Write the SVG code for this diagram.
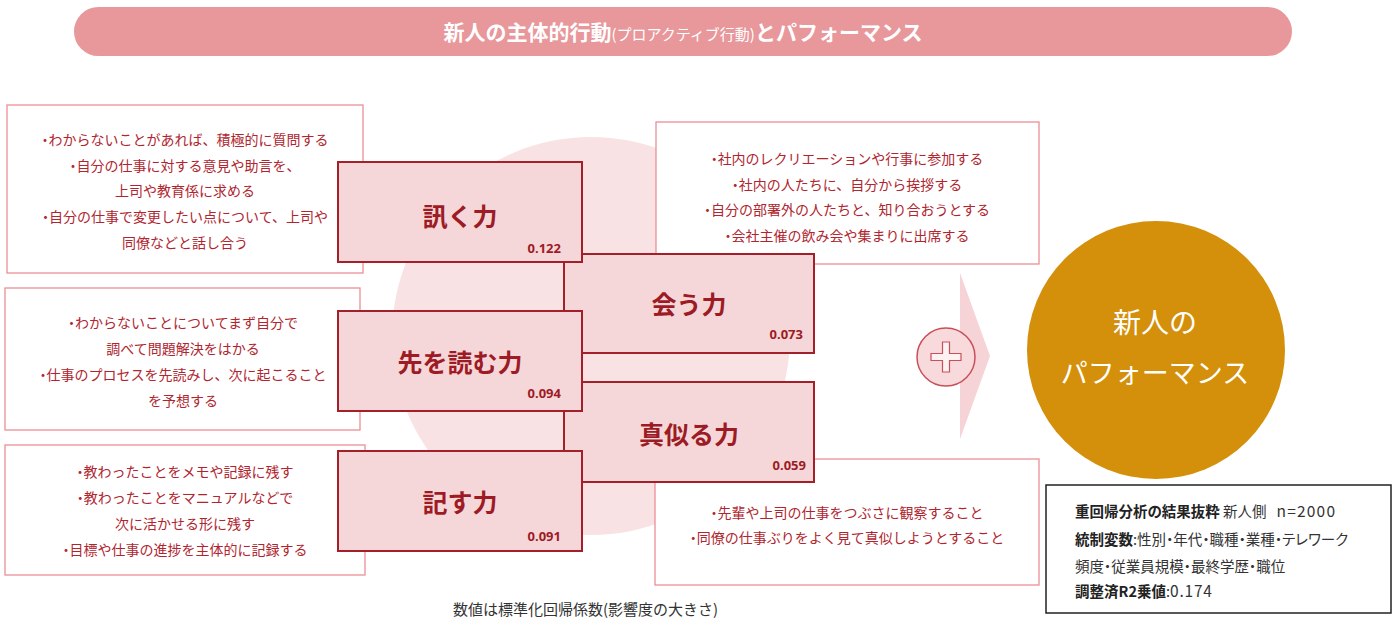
<svg xmlns="http://www.w3.org/2000/svg" width="1396" height="619" viewBox="0 0 1396 619">
<style>
text{font-family:"Noto Sans CJK JP","Noto Sans",sans-serif;}
.tb{fill:#ffffff;stroke:#ec8f95;stroke-width:1.3;}
.tt{font-size:14px;fill:#b0262f;text-anchor:middle;}
.p{font-feature-settings:"palt";}
.cb{fill:#f6d7d9;stroke:#a3202a;stroke-width:2;}
.cl{font-size:25px;font-weight:bold;fill:#9d1b24;text-anchor:middle;}
.cn{font-size:13px;font-weight:bold;fill:#9d1b24;text-anchor:end;font-family:"Noto Sans","DejaVu Sans",sans-serif;}
.rt{font-size:14.5px;fill:#333333;font-feature-settings:"palt";}
.bold{font-weight:bold;fill:#222222;}
</style>
<rect width="1396" height="619" fill="#ffffff"/>
<g id="title">
<rect x="74" y="7" width="1218" height="49" rx="24.5" fill="#e8979b"/>
<text x="683" y="40" fill="#ffffff" text-anchor="middle" font-size="21" font-weight="bold">新人の主体的行動<tspan font-size="15" font-weight="normal">(プロアクティブ行動)</tspan>とパフォーマンス</text>
</g>
<circle id="bg-circle" cx="591" cy="336" r="199" fill="#f9e2e3"/>
<g id="desc-ask">
<rect class="tb" x="7" y="105" width="356" height="168"/>
<text class="tt" x="185" y="145"><tspan class="p">・</tspan>わからないことがあれば、積極的に質問する</text>
<text class="tt" x="185" y="171"><tspan class="p">・</tspan>自分の仕事に対する意見や助言を、</text>
<text class="tt" x="185" y="196">上司や教育係に求める</text>
<text class="tt" x="185" y="222"><tspan class="p">・</tspan>自分の仕事で変更したい点について、上司や</text>
<text class="tt" x="185" y="248">同僚などと話し合う</text>
</g>
<g id="desc-read">
<rect class="tb" x="5" y="288" width="355" height="142"/>
<text class="tt" x="183" y="328"><tspan class="p">・</tspan>わからないことについてまず自分で</text>
<text class="tt" x="183" y="354">調べて問題解決をはかる</text>
<text class="tt" x="183" y="380"><tspan class="p">・</tspan>仕事のプロセスを先読みし、次に起こること</text>
<text class="tt" x="183" y="406">を予想する</text>
</g>
<g id="desc-write">
<rect class="tb" x="5" y="445" width="360" height="130"/>
<text class="tt" x="185" y="477"><tspan class="p">・</tspan>教わったことをメモや記録に残す</text>
<text class="tt" x="185" y="503"><tspan class="p">・</tspan>教わったことをマニュアルなどで</text>
<text class="tt" x="185" y="529">次に活かせる形に残す</text>
<text class="tt" x="185" y="555"><tspan class="p">・</tspan>目標や仕事の進捗を主体的に記録する</text>
</g>
<g id="desc-meet">
<rect class="tb" x="656" y="122" width="383" height="142"/>
<text class="tt" x="847" y="164"><tspan class="p">・</tspan>社内のレクリエーションや行事に参加する</text>
<text class="tt" x="847" y="190"><tspan class="p">・</tspan>社内の人たちに、自分から挨拶する</text>
<text class="tt" x="847" y="215"><tspan class="p">・</tspan>自分の部署外の人たちと、知り合おうとする</text>
<text class="tt" x="847" y="241"><tspan class="p">・</tspan>会社主催の飲み会や集まりに出席する</text>
</g>
<g id="desc-imitate">
<rect class="tb" x="655" y="459" width="384" height="126"/>
<text class="tt" x="847" y="518"><tspan class="p">・</tspan>先輩や上司の仕事をつぶさに観察すること</text>
<text class="tt" x="847" y="543"><tspan class="p">・</tspan>同僚の仕事ぶりをよく見て真似しようとすること</text>
</g>
<g id="node-meet">
<rect class="cb" x="564" y="254" width="250" height="99"/>
<text class="cl" x="689" y="314">会う力</text>
<text class="cn" x="803" y="339">0.073</text>
</g>
<g id="node-imitate">
<rect class="cb" x="564" y="382" width="250" height="100"/>
<text class="cl" x="689" y="444">真似る力</text>
<text class="cn" x="806" y="470">0.059</text>
</g>
<g id="node-ask">
<rect class="cb" x="338" y="162" width="244" height="100"/>
<text class="cl" x="460" y="226">訊く力</text>
<text class="cn" x="561" y="253">0.122</text>
</g>
<g id="node-read">
<rect class="cb" x="338" y="311" width="244" height="100"/>
<text class="cl" x="460" y="372">先を読む力</text>
<text class="cn" x="561" y="398">0.094</text>
</g>
<g id="node-write">
<rect class="cb" x="338" y="451" width="244" height="100"/>
<text class="cl" x="460" y="512">記す力</text>
<text class="cn" x="561" y="541">0.091</text>
</g>
<g id="connectors">
<polygon points="960,273 990,356 960,439" fill="#f6d3d6"/>
<circle cx="946" cy="357" r="29" fill="#f8dadc" stroke="#c8505a" stroke-width="1.5"/>
<path d="M942.5,342 h7 v11.5 h11.5 v7 h-11.5 v11.5 h-7 v-11.5 h-11.5 v-7 h11.5 z" fill="#fdf1f1" stroke="#c8505a" stroke-width="1.2"/>
</g>
<g id="node-performance">
<circle cx="1156" cy="350" r="129" fill="#d48f0b"/>
<text x="1155" y="333" fill="#ffffff" text-anchor="middle" font-size="28">新人の</text>
<text x="1155" y="383" fill="#ffffff" text-anchor="middle" font-size="27">パフォーマンス</text>
</g>
<g id="result-box">
<rect x="1046" y="485" width="345" height="128" fill="#ffffff" stroke="#222222" stroke-width="1.5"/>
<text class="rt" x="1075" y="517"><tspan class="bold">重回帰分析の結果抜粋</tspan> 新人側<tspan dx="10" font-size="15.5" letter-spacing="1.2">n=2000</tspan></text>
<text class="rt" x="1075" y="545"><tspan class="bold">統制変数</tspan>:性別・年代・職種・業種・テレワーク</text>
<text class="rt" x="1075" y="572">頻度・従業員規模・最終学歴・職位</text>
<text class="rt" x="1075" y="597"><tspan class="bold">調整済R2乗値</tspan>:<tspan font-size="15.5" letter-spacing="0.8">0.174</tspan></text>
</g>
<text id="footnote" x="453" y="615" font-size="15" fill="#333333">数値は標準化回帰係数(影響度の大きさ)</text>
</svg>
